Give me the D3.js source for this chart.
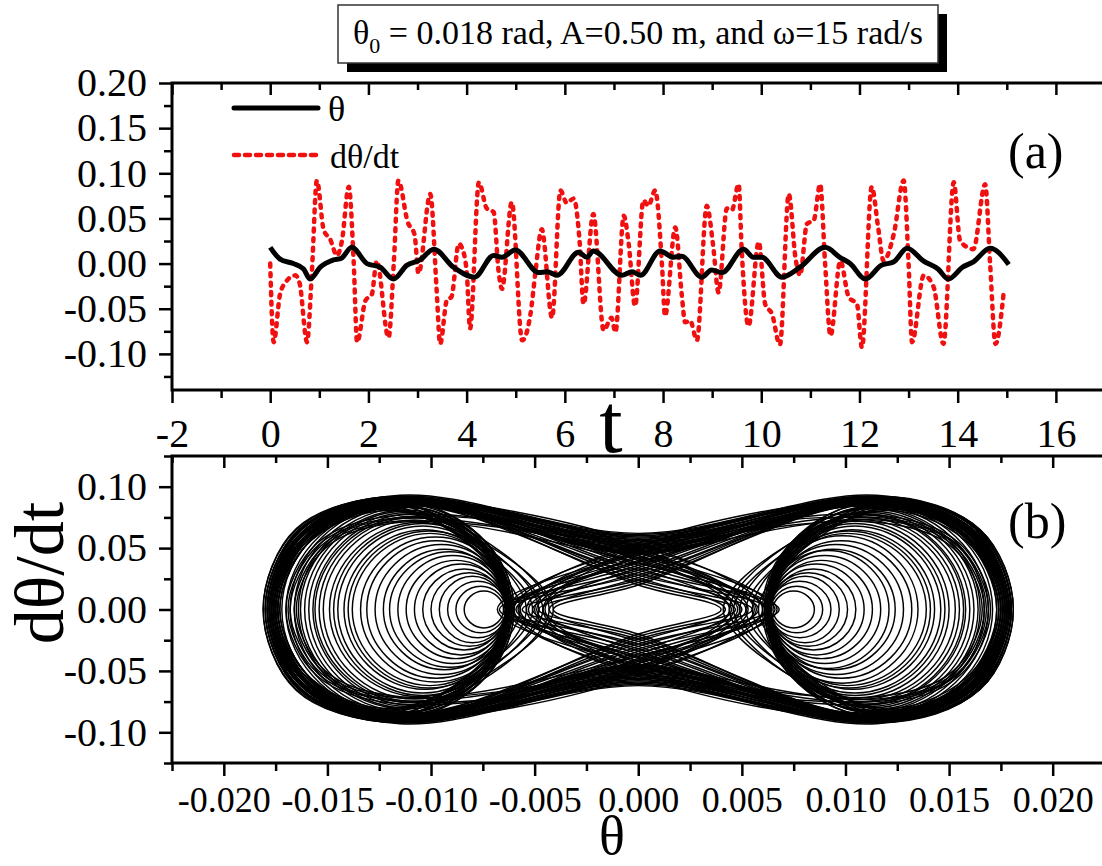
<!DOCTYPE html>
<html>
<head>
<meta charset="utf-8">
<script src="https://cdn.jsdelivr.net/npm/d3@7"></script>
<style>
  body { margin: 0; background: #fff; }
  svg text { font-family: "Liberation Serif", "Times New Roman", serif; fill: #000; }
</style>
</head>
<body>
<svg id="chart" width="1102" height="866"></svg>
<script>
// ---- panel (a): time series ----
const tTheta = [0, 0.2, 0.47, 0.68, 0.81, 1.02, 1.29, 1.45, 1.66, 1.97, 2.24, 2.51, 2.78, 3.05, 3.33,
  3.73, 4.16, 4.55, 4.72, 4.99, 5.47, 5.64, 5.84, 6.28, 6.45, 6.58, 7.16, 7.37, 7.54, 7.94, 8.21, 8.38,
  8.79, 8.99, 9.2, 9.64, 9.84, 10.01, 10.42, 10.79, 11.3, 11.6, 11.81, 12.12, 12.44, 12.7, 12.97,
  13.3, 13.6, 13.81, 14.1, 14.32, 14.66, 15.04];
const theta = [0.018, 0.005, 0.0, -0.006, -0.017, -0.004, 0.004, 0.006, 0.018, 0.0, -0.004, -0.017, -0.002, 0.004, 0.016,
  -0.004, -0.015, 0.009, 0.007, 0.015, -0.010, -0.009, -0.013, 0.0125, 0.007, 0.014, -0.013, -0.009, -0.013, 0.014, 0.007, 0.008,
  -0.015, -0.007, -0.010, 0.016, 0.007, 0.007, -0.015, -0.004, 0.018, 0.007, 0.0, -0.017, -0.002, 0.002, 0.017,
  0.003, -0.006, -0.017, -0.004, 0.002, 0.017, -0.001];

const tRate = [0, 0.07, 0.2, 0.31, 0.51, 0.6, 0.75, 0.85, 0.95, 1.09, 1.22, 1.36, 1.46, 1.6, 1.7, 1.77,
  1.94, 2.07, 2.17, 2.41, 2.52, 2.61, 2.8, 2.94, 3.02, 3.26, 3.39, 3.46, 3.6, 3.69, 3.84, 3.9, 4.0, 4.07,
  4.25, 4.41, 4.55, 4.65, 4.72, 4.92, 5.13, 5.3, 5.4, 5.53, 5.74, 5.91, 6.04, 6.18, 6.3, 6.38, 6.58,
  6.79, 6.95, 7.03, 7.2, 7.3, 7.43, 7.6, 7.7, 7.84, 7.98, 8.04, 8.25, 8.38, 8.45, 8.55, 8.69, 8.89,
  9.02, 9.13, 9.3, 9.4, 9.54, 9.6, 9.74, 9.95, 10.08, 10.22, 10.38, 10.56, 10.7, 10.79, 10.93, 11.07,
  11.2, 11.3, 11.41, 11.61, 11.78, 11.95, 12.05, 12.25, 12.38, 12.49, 12.7, 12.9, 13.0, 13.07, 13.31,
  13.51, 13.71, 13.92, 14.05, 14.32, 14.56, 14.66, 14.77, 14.94];
const rate = [0, -0.087, -0.034, -0.021, -0.013, -0.022, -0.087, -0.008, 0.092, 0.037, 0.027, 0.009, 0.025, 0.085, 0.002, -0.087,
  -0.041, -0.034, 0.003, -0.082, 0.004, 0.092, 0.046, 0.032, -0.011, 0.077, -0.03, -0.089, -0.04, -0.037, 0.022, 0.018, -0.008, -0.072,
  0.09, 0.061, 0.057, -0.008, -0.028, 0.068, -0.085, -0.056, -0.01, 0.038, -0.06, 0.081, 0.067, 0.072, 0.025, -0.045, 0.055,
  -0.074, -0.06, -0.076, 0.053, 0.022, -0.047, 0.07, 0.064, 0.081, -0.003, -0.058, 0.04, -0.034, -0.065, -0.063, -0.085, 0.064,
  0.02, -0.032, 0.061, 0.059, 0.088, 0.017, -0.069, 0.024, -0.045, -0.056, -0.09, 0.077, 0.005, -0.013, 0.044, 0.048,
  0.088, 0.0, -0.08, 0.003, -0.037, -0.045, -0.093, 0.085, 0.04, 0.003, 0.033, 0.092, 0.0, -0.087, -0.013,
  -0.026, -0.089, 0.09, 0.025, 0.016, 0.088, 0.0, -0.089, -0.03];

const tTicks = [-2, 0, 2, 4, 6, 8, 10, 12, 14, 16];
const tMinor = [-1, 1, 3, 5, 7, 9, 11, 13, 15];
const yTicksA = [-0.10, -0.05, 0.00, 0.05, 0.10, 0.15, 0.20];
const yMinorA = [-0.125, -0.075, -0.025, 0.025, 0.075, 0.125, 0.175];

// ---- panel (b): phase loops ----
const wellCenter = 0.0115;           // theta where the outer loops peak
// loops inside one well: [left turn, right turn, peak rate]
const innerLeft = [[-0.0172, -0.0061, 0.088], [-0.0170, -0.0060, 0.086], [-0.0168, -0.0063, 0.085],
  [-0.0166, -0.0062, 0.084], [-0.0164, -0.0060, 0.083], [-0.0163, -0.0061, 0.081], [-0.0161, -0.0064, 0.080],
  [-0.0159, -0.0063, 0.079], [-0.0157, -0.0061, 0.078], [-0.0156, -0.0062, 0.076], [-0.0154, -0.0063, 0.075],
  [-0.0152, -0.0064, 0.073], [-0.0149, -0.0062, 0.071], [-0.0147, -0.0061, 0.070],
  [-0.0145, -0.0063, 0.068], [-0.0142, -0.0064, 0.065], [-0.0140, -0.0062, 0.064], [-0.0138, -0.0063, 0.062],
  [-0.0134, -0.0062, 0.059], [-0.0131, -0.0064, 0.056], [-0.0127, -0.0063, 0.053], [-0.0123, -0.0064, 0.049],
  [-0.0120, -0.0062, 0.047], [-0.0116, -0.0063, 0.044], [-0.0112, -0.0064, 0.040], [-0.0108, -0.0063, 0.037],
  [-0.0104, -0.0064, 0.033], [-0.0100, -0.0063, 0.030], [-0.0096, -0.0064, 0.027], [-0.0092, -0.0063, 0.023],
  [-0.0088, -0.0064, 0.019], [-0.0084, -0.0065, 0.015]];
const innerRight = [[0.0062, 0.0173, 0.088], [0.0061, 0.0171, 0.087], [0.0063, 0.0169, 0.085],
  [0.0062, 0.0167, 0.084], [0.0061, 0.0165, 0.083], [0.0060, 0.0164, 0.082], [0.0064, 0.0162, 0.080],
  [0.0063, 0.0160, 0.079], [0.0061, 0.0158, 0.078], [0.0062, 0.0157, 0.077], [0.0063, 0.0155, 0.075],
  [0.0064, 0.0153, 0.073], [0.0062, 0.0150, 0.072], [0.0061, 0.0148, 0.070],
  [0.0063, 0.0146, 0.068], [0.0064, 0.0143, 0.065], [0.0062, 0.0141, 0.064], [0.0063, 0.0139, 0.062],
  [0.0062, 0.0135, 0.060], [0.0064, 0.0132, 0.056], [0.0063, 0.0128, 0.053], [0.0064, 0.0124, 0.049],
  [0.0062, 0.0121, 0.048], [0.0063, 0.0117, 0.044], [0.0064, 0.0113, 0.040], [0.0063, 0.0109, 0.037],
  [0.0064, 0.0105, 0.033], [0.0063, 0.0101, 0.030], [0.0064, 0.0097, 0.027], [0.0063, 0.0093, 0.023],
  [0.0064, 0.0089, 0.019], [0.0065, 0.0085, 0.015]];
// big loops of one well that turn back just short of the eye:
// [outer turn, shoulder theta, shoulder rate, peak rate, inner turn]
const nearLeft = [[-0.0178, -0.0162, 0.060, 0.086, -0.0060], [-0.0176, -0.0160, 0.058, 0.083, -0.0057],
  [-0.0179, -0.0163, 0.061, 0.088, -0.0054], [-0.0175, -0.0159, 0.057, 0.081, -0.0051],
  [-0.0177, -0.0161, 0.059, 0.085, -0.0048], [-0.0174, -0.0158, 0.056, 0.080, -0.0046],
  [-0.0178, -0.0162, 0.060, 0.087, -0.0043], [-0.0176, -0.0160, 0.058, 0.082, -0.0041]];
const nearRight = [[0.0179, 0.0163, 0.061, 0.087, 0.0061], [0.0176, 0.0160, 0.058, 0.082, 0.0058],
  [0.0178, 0.0162, 0.060, 0.088, 0.0055], [0.0175, 0.0159, 0.057, 0.081, 0.0052],
  [0.0177, 0.0161, 0.059, 0.085, 0.0049], [0.0174, 0.0158, 0.056, 0.080, 0.0046],
  [0.0178, 0.0162, 0.060, 0.086, 0.0044], [0.0176, 0.0160, 0.058, 0.083, 0.0041]];
// loops from the left well reaching over theta=0:
// [left turn, shoulder theta, shoulder rate, peak rate, rate at theta=0, right turn]
const reachLeft = [[-0.0180, -0.0164, 0.064, 0.091, 0.020, 0.0040], [-0.0177, -0.0161, 0.062, 0.088, 0.022, 0.0047],
  [-0.0179, -0.0163, 0.065, 0.092, 0.024, 0.0055], [-0.0175, -0.0159, 0.060, 0.086, 0.026, 0.0042],
  [-0.0178, -0.0162, 0.063, 0.089, 0.028, 0.0063], [-0.0176, -0.0160, 0.061, 0.087, 0.030, 0.0050],
  [-0.0181, -0.0165, 0.065, 0.092, 0.032, 0.0068], [-0.0174, -0.0158, 0.059, 0.085, 0.034, 0.0045],
  [-0.0178, -0.0162, 0.063, 0.090, 0.036, 0.0058], [-0.0176, -0.0160, 0.061, 0.088, 0.038, 0.0066],
  [-0.0179, -0.0163, 0.064, 0.091, 0.040, 0.0052], [-0.0175, -0.0159, 0.060, 0.086, 0.042, 0.0061],
  [-0.0177, -0.0161, 0.062, 0.089, 0.044, 0.0044], [-0.0173, -0.0157, 0.058, 0.084, 0.046, 0.0067],
  [-0.0178, -0.0162, 0.063, 0.090, 0.048, 0.0056], [-0.0176, -0.0160, 0.061, 0.087, 0.050, 0.0049],
  [-0.0174, -0.0158, 0.059, 0.085, 0.052, 0.0064], [-0.0177, -0.0161, 0.062, 0.088, 0.054, 0.0060],
  [-0.0168, -0.0153, 0.052, 0.074, 0.041, 0.0048], [-0.0165, -0.0151, 0.050, 0.071, 0.044, 0.0057],
  [-0.0170, -0.0155, 0.054, 0.077, 0.047, 0.0046], [-0.0166, -0.0152, 0.051, 0.072, 0.038, 0.0062],
  [-0.0169, -0.0154, 0.053, 0.075, 0.050, 0.0053]];
// loops from the right well reaching over theta=0:
// [left turn, right turn, shoulder theta, shoulder rate, peak rate, rate at theta=0]
const reachRight = [[-0.0041, 0.0181, 0.0165, 0.065, 0.092, 0.020], [-0.0048, 0.0178, 0.0162, 0.063, 0.089, 0.022],
  [-0.0056, 0.0180, 0.0164, 0.064, 0.091, 0.024], [-0.0043, 0.0176, 0.0160, 0.061, 0.087, 0.026],
  [-0.0064, 0.0179, 0.0163, 0.063, 0.090, 0.028], [-0.0051, 0.0177, 0.0161, 0.062, 0.088, 0.030],
  [-0.0067, 0.0180, 0.0164, 0.065, 0.092, 0.032], [-0.0046, 0.0175, 0.0159, 0.060, 0.086, 0.034],
  [-0.0059, 0.0179, 0.0163, 0.063, 0.089, 0.036], [-0.0065, 0.0177, 0.0161, 0.061, 0.087, 0.038],
  [-0.0053, 0.0180, 0.0164, 0.064, 0.091, 0.040], [-0.0062, 0.0176, 0.0160, 0.060, 0.086, 0.042],
  [-0.0045, 0.0178, 0.0162, 0.062, 0.088, 0.044], [-0.0068, 0.0174, 0.0158, 0.059, 0.084, 0.046],
  [-0.0057, 0.0179, 0.0163, 0.063, 0.090, 0.048], [-0.0050, 0.0177, 0.0161, 0.061, 0.087, 0.050],
  [-0.0063, 0.0175, 0.0159, 0.059, 0.085, 0.052], [-0.0060, 0.0178, 0.0162, 0.062, 0.088, 0.054],
  [-0.0049, 0.0169, 0.0154, 0.053, 0.075, 0.042], [-0.0058, 0.0166, 0.0152, 0.050, 0.071, 0.045],
  [-0.0046, 0.0170, 0.0155, 0.054, 0.077, 0.048], [-0.0061, 0.0167, 0.0153, 0.051, 0.073, 0.039],
  [-0.0054, 0.0168, 0.0154, 0.052, 0.074, 0.051]];
// loops over both wells:
// [left turn, left shoulder, right turn, right shoulder, shoulder rate, peak rate, rate at theta=0]
const across = [[-0.0181, -0.0165, 0.0180, 0.0164, 0.066, 0.093, 0.062], [-0.0179, -0.0163, 0.0181, 0.0165, 0.065, 0.092, 0.061],
  [-0.0180, -0.0164, 0.0178, 0.0162, 0.064, 0.091, 0.060], [-0.0177, -0.0161, 0.0179, 0.0163, 0.065, 0.092, 0.059],
  [-0.0178, -0.0162, 0.0177, 0.0161, 0.063, 0.090, 0.058], [-0.0176, -0.0160, 0.0178, 0.0162, 0.064, 0.091, 0.057],
  [-0.0179, -0.0163, 0.0176, 0.0160, 0.062, 0.089, 0.056], [-0.0177, -0.0161, 0.0179, 0.0163, 0.063, 0.090, 0.055],
  [-0.0175, -0.0159, 0.0177, 0.0161, 0.061, 0.088, 0.054], [-0.0178, -0.0162, 0.0175, 0.0159, 0.062, 0.089, 0.053],
  [-0.0176, -0.0160, 0.0178, 0.0162, 0.060, 0.087, 0.052], [-0.0174, -0.0158, 0.0176, 0.0160, 0.061, 0.088, 0.051],
  [-0.0177, -0.0161, 0.0174, 0.0158, 0.059, 0.086, 0.050], [-0.0175, -0.0159, 0.0177, 0.0161, 0.060, 0.087, 0.049],
  [-0.0173, -0.0157, 0.0175, 0.0159, 0.058, 0.085, 0.048], [-0.0176, -0.0160, 0.0173, 0.0157, 0.059, 0.086, 0.047],
  [-0.0178, -0.0162, 0.0179, 0.0163, 0.063, 0.090, 0.046], [-0.0180, -0.0164, 0.0180, 0.0164, 0.065, 0.092, 0.045]];

const thTicks = [-0.020, -0.015, -0.010, -0.005, 0.000, 0.005, 0.010, 0.015, 0.020];
const thMinor = [-0.0225, -0.0175, -0.0125, -0.0075, -0.0025, 0.0025, 0.0075, 0.0125, 0.0175, 0.0225];
const yTicksB = [-0.10, -0.05, 0.00, 0.05, 0.10];
const yMinorB = [-0.125, -0.075, -0.025, 0.025, 0.075, 0.125];

const svg = d3.select("#chart");
svg.append("rect").attr("width", 1102).attr("height", 866).attr("fill", "#fff");

// scales
const xA = d3.scaleLinear().domain([-2, 17]).range([172, 1105]);
const yA = d3.scaleLinear().domain([-0.14, 0.20]).range([390, 83]);
const xB = d3.scaleLinear().domain([-0.0225, 0.0225]).range([172, 1104.5]);
const yB = d3.scaleLinear().domain([-0.125, 0.125]).range([763, 456]);

function addAxis(axis, tx, ty, size) {
    const g = svg.append("g").attr("transform", `translate(${tx},${ty})`).call(axis);
    g.select(".domain").remove();
    g.selectAll(".tick line").attr("stroke", "#000").attr("stroke-width", 2.5);
    g.selectAll(".tick text").attr("font-size", size).attr("fill", "#000")
        .attr("font-family", "Liberation Serif, Times New Roman, serif");
    return g;
}

// ---------- panel (a) ----------
addAxis(d3.axisLeft(yA).tickValues(yTicksA).tickSize(13).tickPadding(12).tickFormat(d => d.toFixed(2)), 172, 0, 40);
addAxis(d3.axisLeft(yA).tickValues(yMinorA).tickSize(8).tickFormat(""), 172, 0, 0);
addAxis(d3.axisBottom(xA).tickValues(tTicks).tickSize(13).tickPadding(16).tickFormat(d => d.toFixed(0)), 0, 390, 40);
addAxis(d3.axisBottom(xA).tickValues(tMinor).tickSize(8).tickFormat(""), 0, 390, 0);
addAxis(d3.axisTop(xA).tickValues(tTicks).tickSize(-12).tickFormat(""), 0, 83, 0);
addAxis(d3.axisTop(xA).tickValues(tMinor).tickSize(-7).tickFormat(""), 0, 83, 0);

svg.append("rect")
    .attr("x", xA.range()[0]).attr("y", yA.range()[1])
    .attr("width", xA.range()[1] - xA.range()[0]).attr("height", yA.range()[0] - yA.range()[1])
    .attr("fill", "none").attr("stroke", "#000").attr("stroke-width", 3);

const lineTheta = d3.line().x((d, i) => xA(tTheta[i])).y(d => yA(d)).curve(d3.curveMonotoneX);
const lineRate = d3.line().x((d, i) => xA(tRate[i])).y(d => yA(d)).curve(d3.curveMonotoneX);

const red = "#f01010";
svg.append("path").datum(rate).attr("d", lineRate)
    .attr("fill", "none").attr("stroke", red).attr("stroke-width", 4.5)
    .attr("stroke-dasharray", "3,6.5").attr("stroke-linecap", "round");
svg.append("path").datum(theta).attr("d", lineTheta)
    .attr("fill", "none").attr("stroke", "#000").attr("stroke-width", 5)
    .attr("stroke-linejoin", "round");

// legend
const legend = svg.append("g");
legend.append("line").attr("x1", 234).attr("x2", 318).attr("y1", 108).attr("y2", 108)
    .attr("stroke", "#000").attr("stroke-width", 5).attr("stroke-linecap", "round");
legend.append("text").attr("x", 328).attr("y", 121).attr("font-size", 36).text("θ");
legend.append("line").attr("x1", 234).attr("x2", 318).attr("y1", 155).attr("y2", 155)
    .attr("stroke", red).attr("stroke-width", 4.5).attr("stroke-dasharray", "5,6")
    .attr("stroke-linecap", "round");
legend.append("text").attr("x", 330).attr("y", 168).attr("font-size", 34).text("dθ/dt");

svg.append("text").attr("x", 1008).attr("y", 168).attr("font-size", 50).text("(a)");
svg.append("text").attr("x", 611).attr("y", 452).attr("font-size", 84).attr("text-anchor", "middle").text("t");

// ---------- panel (b) ----------
addAxis(d3.axisLeft(yB).tickValues(yTicksB).tickSize(13).tickPadding(12).tickFormat(d => d.toFixed(2)), 172, 0, 40);
addAxis(d3.axisLeft(yB).tickValues(yMinorB).tickSize(8).tickFormat(""), 172, 0, 0);
addAxis(d3.axisBottom(xB).tickValues(thTicks).tickSize(13).tickPadding(10).tickFormat(d => d.toFixed(3)), 0, 763, 36);
addAxis(d3.axisBottom(xB).tickValues(thMinor).tickSize(8).tickFormat(""), 0, 763, 0);
addAxis(d3.axisTop(xB).tickValues(thTicks).tickSize(-12).tickFormat(""), 0, 456, 0);
addAxis(d3.axisTop(xB).tickValues(thMinor).tickSize(-7).tickFormat(""), 0, 456, 0);

svg.append("rect")
    .attr("x", xB.range()[0]).attr("y", yB.range()[1])
    .attr("width", xB.range()[1] - xB.range()[0]).attr("height", yB.range()[0] - yB.range()[1])
    .attr("fill", "none").attr("stroke", "#000").attr("stroke-width", 3);

const phaseRound = d3.line().x(d => xB(d[0])).y(d => yB(d[1])).curve(d3.curveCardinalClosed.tension(-0.6));
const phaseLong = d3.line().x(d => xB(d[0])).y(d => yB(d[1])).curve(d3.curveCatmullRomClosed.alpha(0.5));

const loops = svg.append("g").attr("fill", "none").attr("stroke", "#000").attr("stroke-width", 1.45);

innerLeft.concat(innerRight).forEach(([l, r, v]) => {
    const m = (l + r) / 2;
    loops.append("path").attr("d", phaseRound([[l, 0], [m, v], [r, 0], [m, -v]]));
});
nearLeft.forEach(([l, s, vs, vt, r]) => {
    loops.append("path").attr("d", phaseLong([[l, 0], [s, vs], [-wellCenter, vt], [r, 0],
        [-wellCenter, -vt], [s, -vs]]));
});
nearRight.forEach(([r, s, vs, vt, l]) => {
    loops.append("path").attr("d", phaseLong([[l, 0], [wellCenter, vt], [s, vs], [r, 0],
        [s, -vs], [wellCenter, -vt]]));
});
reachLeft.forEach(([l, s, vs, vt, v0, r]) => {
    loops.append("path").attr("d", phaseLong([[l, 0], [s, vs], [-wellCenter, vt], [0, v0], [r, 0],
        [0, -v0], [-wellCenter, -vt], [s, -vs]]));
});
reachRight.forEach(([l, r, s, vs, vt, v0]) => {
    loops.append("path").attr("d", phaseLong([[l, 0], [0, v0], [wellCenter, vt], [s, vs], [r, 0],
        [s, -vs], [wellCenter, -vt], [0, -v0]]));
});
across.forEach(([l, sl, r, sr, vs, vt, v0]) => {
    loops.append("path").attr("d", phaseLong([[l, 0], [sl, vs], [-wellCenter, vt], [0, v0], [wellCenter, vt],
        [sr, vs], [r, 0], [sr, -vs], [wellCenter, -vt], [0, -v0], [-wellCenter, -vt], [sl, -vs]]));
});

svg.append("text").attr("x", 1008).attr("y", 538).attr("font-size", 50).text("(b)");
svg.append("text").attr("x", 612).attr("y", 854).attr("font-size", 54).attr("text-anchor", "middle").text("θ");
svg.append("text").attr("transform", "translate(63,573) rotate(-90)").attr("font-size", 70)
    .attr("text-anchor", "middle").text("dθ/dt");

// ---------- title box ----------
svg.append("rect").attr("x", 347).attr("y", 14).attr("width", 600).attr("height", 58).attr("fill", "#000");
svg.append("rect").attr("x", 338).attr("y", 5).attr("width", 600).attr("height", 58)
    .attr("fill", "#fff").attr("stroke", "#333").attr("stroke-width", 1.5);
const title = svg.append("text").attr("x", 638).attr("y", 44).attr("font-size", 34).attr("text-anchor", "middle");
title.append("tspan").text("θ");
title.append("tspan").attr("font-size", 22).attr("dy", 9).text("0");
title.append("tspan").attr("dy", -9).text(" = 0.018 rad, A=0.50 m, and ω=15 rad/s");
</script>
</body>
</html>
